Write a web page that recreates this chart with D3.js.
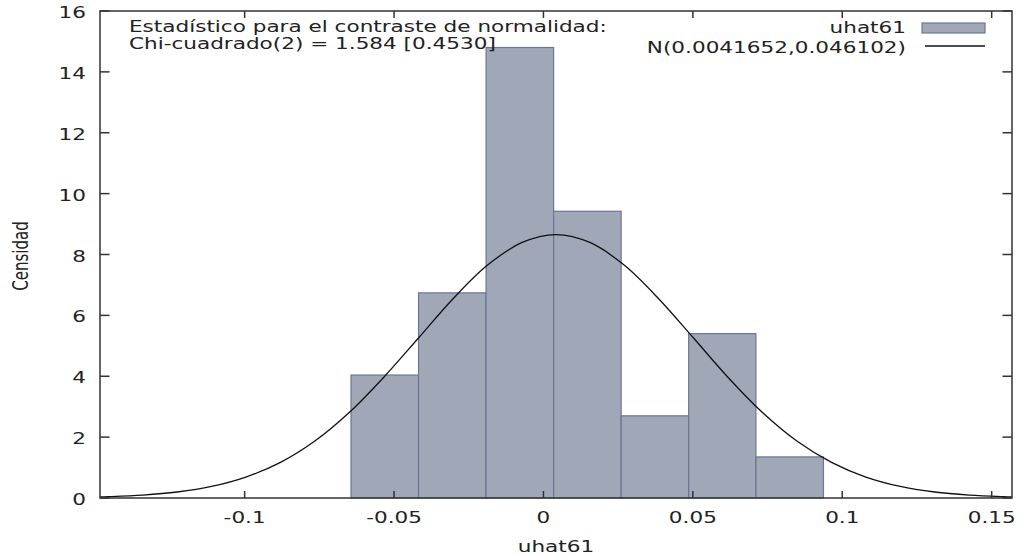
<!DOCTYPE html>
<html><head><meta charset="utf-8">
<script src="https://cdn.jsdelivr.net/npm/d3@7/dist/d3.min.js"></script>
<style>html,body{margin:0;padding:0;background:#fff;}svg{display:block;}</style>
</head><body>
<svg id="c" width="1024" height="556"></svg>
<script>
// ---- data ----
const binEdges = [-0.0644, -0.0418, -0.0192, 0.0034, 0.0260, 0.0486, 0.0711, 0.0937];
const densities = [4.04, 6.74, 14.8, 9.42, 2.7, 5.4, 1.35];
const normX = [-0.1484, -0.1457, -0.1341, -0.1226, -0.1111, -0.0996, -0.0880, -0.0765, -0.0650, -0.0535, -0.0419, -0.0304, -0.0189, -0.0073, 0.0042, 0.0157, 0.0272, 0.0387, 0.0503, 0.0618, 0.0733, 0.0848, 0.0964, 0.1079, 0.1194, 0.1309, 0.1425, 0.1540, 0.1568];
const normY = [0.0361, 0.0440, 0.0961, 0.1972, 0.3802, 0.6884, 1.171, 1.872, 2.809, 3.961, 5.248, 6.531, 7.636, 8.387, 8.653, 8.387, 7.636, 6.531, 5.248, 3.961, 2.809, 1.872, 1.171, 0.6884, 0.3802, 0.1972, 0.0961, 0.0440, 0.0361];
const xTicks = [-0.1, -0.05, 0, 0.05, 0.1, 0.15];
const xTickLabels = ["-0.1", "-0.05", "0", "0.05", "0.1", "0.15"];
const yTicks = [0, 2, 4, 6, 8, 10, 12, 14, 16];
const xDomain = [-0.1484, 0.1568];
const yDomain = [0, 16];
const seriesName = "uhat61";
const normName = "N(0.0041652,0.046102)";
const statLines = ["Estadístico para el contraste de normalidad:", "Chi-cuadrado(2) = 1.584 [0.4530]"];
const xTitle = "uhat61";
const yTitle = "Censidad";

// ---- layout ----
const L = 100, R = 1012, T = 11, B = 498;
const svg = d3.select("#c");
const x = d3.scaleLinear().domain(xDomain).range([L, R]);
const y = d3.scaleLinear().domain(yDomain).range([B, T]);
const FONT = "DejaVu Sans, Verdana, sans-serif";
const FS = 15;
const ink = "#222";

// horizontal stretch factor of the reference text
const probe = svg.append("text").attr("font-family", FONT).attr("font-size", FS).text(statLines[0]);
const SX = 478 / probe.node().getComputedTextLength();
probe.remove();

function txt(px, py, s, anchor, rot) {
  return svg.append("text")
    .attr("transform", `translate(${px},${py}) scale(${SX},1)` + (rot ? ` rotate(${rot})` : ""))
    .attr("font-family", FONT).attr("font-size", FS).attr("fill", ink)
    .attr("text-anchor", anchor || "start").text(s);
}

// bars
const bins = densities.map((d, i) => ({x0: binEdges[i], x1: binEdges[i + 1], d}));
svg.append("g").selectAll("rect").data(bins).join("rect")
  .attr("x", d => x(d.x0)).attr("width", d => x(d.x1) - x(d.x0))
  .attr("y", d => y(d.d)).attr("height", d => y(0) - y(d.d))
  .attr("fill", "#a0a7b6").attr("stroke", "#6b7792").attr("stroke-width", 1.2);

// normal curve
const pts = normX.map((v, i) => [v, normY[i]]);
svg.append("path").datum(pts)
  .attr("d", d3.line().x(d => x(d[0])).y(d => y(d[1])).curve(d3.curveCatmullRom))
  .attr("fill", "none").attr("stroke", "#111").attr("stroke-width", 1.3);

// axes (gnuplot-style with mirror ticks)
const axG = svg.append("g").attr("stroke", "#333").attr("stroke-width", 1.5).attr("fill", "none");
axG.append("rect").attr("x", L).attr("y", T).attr("width", R - L).attr("height", B - T);
const xAx = d3.axisBottom(x).tickValues(xTicks).tickSize(0).tickFormat(() => "");
xTicks.forEach(t => {
  axG.append("line").attr("x1", x(t)).attr("x2", x(t)).attr("y1", B).attr("y2", B - 7);
  axG.append("line").attr("x1", x(t)).attr("x2", x(t)).attr("y1", T).attr("y2", T + 7);
});
yTicks.forEach(t => {
  axG.append("line").attr("x1", L).attr("x2", L + 9.5).attr("y1", y(t)).attr("y2", y(t));
  axG.append("line").attr("x1", R).attr("x2", R - 9.5).attr("y1", y(t)).attr("y2", y(t));
});
xTicks.forEach((t, i) => txt(x(t), 523, xTickLabels[i], "middle"));
yTicks.forEach(t => txt(86, y(t) + 7, String(t), "end"));

// titles
txt((L + R) / 2, 552, xTitle, "middle");
txt(28, 256, yTitle, "middle", -90);

// stat text
txt(129, 32, statLines[0]);
txt(129, 49, statLines[1]);

// legend
txt(906, 33, seriesName, "end");
txt(906, 53, normName, "end");
svg.append("rect").attr("x", 922).attr("y", 23).attr("width", 63).attr("height", 10)
  .attr("fill", "#a0a7b6").attr("stroke", "#6b7792").attr("stroke-width", 1.2);
svg.append("line").attr("x1", 925).attr("x2", 985).attr("y1", 46).attr("y2", 46)
  .attr("stroke", "#111").attr("stroke-width", 1.3);
</script>
</body></html>
